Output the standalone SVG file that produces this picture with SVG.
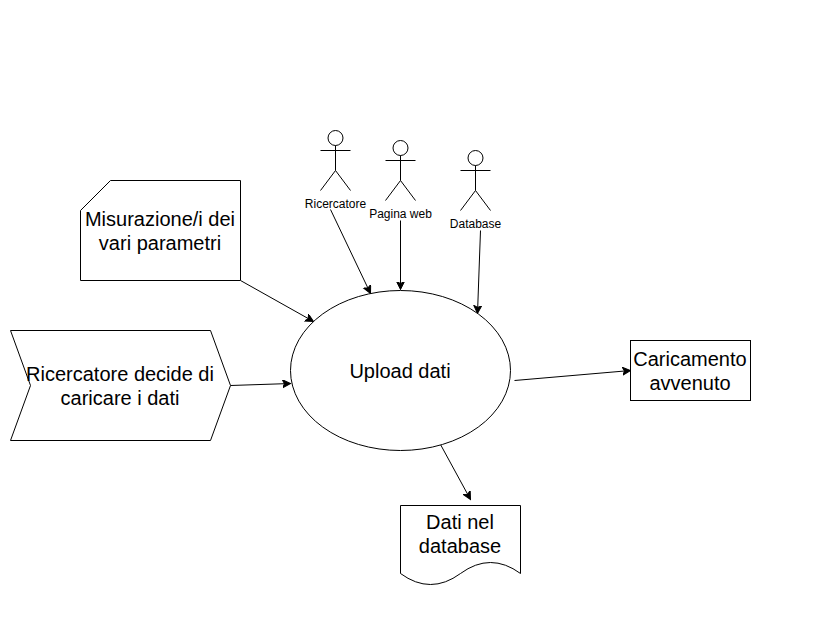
<svg xmlns="http://www.w3.org/2000/svg" width="826" height="641" viewBox="0 0 826 641">
<style>
.s{fill:#fff;stroke:#000;stroke-width:1}
.a{fill:none;stroke:#000;stroke-width:1}
.l{font-family:"Liberation Sans",Arial,sans-serif;font-size:20px;fill:#000;text-anchor:middle}
.m{font-family:"Liberation Sans",Arial,sans-serif;font-size:12px;fill:#000;text-anchor:middle}
</style>
<defs>
<marker id="h" markerUnits="userSpaceOnUse" markerWidth="10" markerHeight="10" refX="8" refY="4" orient="auto"><path d="M0 0L8 4L0 8L2 4Z" fill="#000" stroke="#000" stroke-width="1"/></marker>
<g id="actor"><ellipse cx="15" cy="7.5" rx="7.5" ry="7.5" class="s"/><path class="a" d="M15 15V40M0 20H30M15 40L0 60M15 40L30 60"/></g>
</defs>
<rect width="826" height="641" fill="#fff"/>
<g id="connectors">
<path class="a" marker-end="url(#h)" d="M240.500 280.500L313.500 321.500"/>
<path class="a" marker-end="url(#h)" d="M230.500 385.500L290.500 383.500"/>
<path class="a" marker-end="url(#h)" d="M330.500 209.500L370.500 293.500"/>
<path class="a" marker-end="url(#h)" d="M400.500 220.500V289.500"/>
<path class="a" marker-end="url(#h)" d="M480.500 230.500L477.500 313.500"/>
<path class="a" marker-end="url(#h)" d="M514.500 380.500L630.500 370.500"/>
<path class="a" marker-end="url(#h)" d="M440.500 444.500L470.500 499.500"/>
</g>
<g id="n-misurazione"><path class="s" d="M110.500 180.500H240.500V280.500H80.500V210.500Z"/><text class="l" x="160" y="226">Misurazione/i dei</text><text class="l" x="160" y="250">vari parametri</text></g>
<g id="n-ricercatore-decide"><path class="s" d="M10.500 330.500H210.500L230.500 385.500L210.500 440.500H10.500L30.500 385.500Z"/><text class="l" x="120" y="381">Ricercatore decide di</text><text class="l" x="120" y="405">caricare i dati</text></g>
<g id="n-upload"><ellipse class="s" cx="400.500" cy="370.500" rx="110" ry="80"/><text class="l" x="400" y="378">Upload dati</text></g>
<g id="n-caricamento"><rect class="s" x="630.500" y="340.500" width="120" height="60"/><text class="l" x="690" y="366">Caricamento</text><text class="l" x="690" y="390">avvenuto</text></g>
<g id="n-dati"><path class="s" d="M400.500 505.500H520.500V573.500Q490.500 551.500 460.500 573.500Q430.500 595.500 400.500 573.500Z"/><text class="l" x="460" y="529">Dati nel</text><text class="l" x="460" y="553">database</text></g>
<g id="n-a1"><use href="#actor" x="320.500" y="130.500"/><text class="m" x="335.500" y="208">Ricercatore</text></g>
<g id="n-a2"><use href="#actor" x="385.500" y="140.500"/><text class="m" x="400.500" y="218">Pagina web</text></g>
<g id="n-a3"><use href="#actor" x="460.500" y="150.500"/><text class="m" x="475.500" y="228">Database</text></g>
</svg>
